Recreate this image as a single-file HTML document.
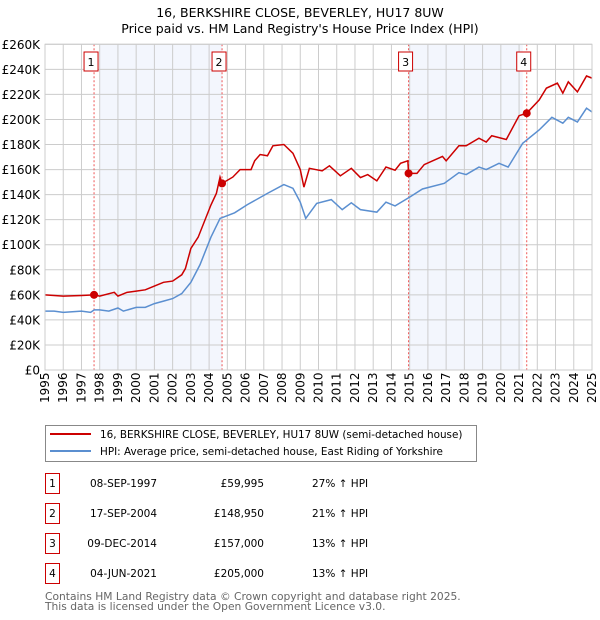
<!DOCTYPE html>
<html><head><meta charset="utf-8"><style>
body{margin:0;background:#fff;width:600px;height:620px;overflow:hidden;font-family:"DejaVu Sans","Liberation Sans",sans-serif;}
svg{position:absolute;left:0;top:0}
</style></head><body>
<svg width="600" height="620" xmlns="http://www.w3.org/2000/svg" font-family="DejaVu Sans, Liberation Sans, sans-serif">
<g id="root"></g>
</svg>
<script>
const years=[1995,1996,1997,1998,1999,2000,2001,2002,2003,2004,2005,2006,2007,2008,2009,2010,2011,2012,2013,2014,2015,2016,2017,2018,2019,2020,2021,2022,2023,2024,2025];
const yTicks=[0,20,40,60,80,100,120,140,160,180,200,220,240,260];
const hpiT=[1995,1995.5,1996,1996.5,1997,1997.5,1997.7,1998,1998.5,1999,1999.3,2000,2000.5,2001,2001.5,2002,2002.5,2003,2003.5,2004.1,2004.6,2005.4,2006.1,2007.2,2008.1,2008.6,2009,2009.3,2009.9,2010.7,2011.3,2011.8,2012.3,2013.2,2013.7,2014.2,2015,2015.7,2016.9,2017.7,2018.1,2018.8,2019.2,2019.9,2020.4,2021.2,2022.1,2022.8,2023.4,2023.7,2024.2,2024.7,2025];
const hpiV=[47,47,46,46.5,47,46,48,48,47,49.5,47,50,50,53,55,57,61,70,84,106,121,125.5,132,141,148,145,134,121,133,136,128,133.5,128,126,134,131,138,144.5,149,157.5,156,162,160,165,162,181,191.6,201.7,197,201.7,198,209,206];
const ppT=[1995,1996,1997,1997.69,1998,1998.8,1999,1999.5,2000,2000.5,2001,2001.5,2002,2002.5,2002.7,2003,2003.4,2004.1,2004.4,2004.6,2004.71,2005.3,2005.7,2006.3,2006.5,2006.8,2007.2,2007.5,2008.1,2008.6,2009,2009.2,2009.5,2010.2,2010.6,2011.2,2011.8,2012.3,2012.7,2013.2,2013.7,2014.2,2014.5,2014.9,2014.94,2015.4,2015.8,2016.8,2017,2017.7,2018.1,2018.8,2019.2,2019.5,2020.3,2021,2021.42,2022.1,2022.5,2023.1,2023.4,2023.7,2024.2,2024.7,2025];
const ppV=[60,59,59.5,60,59,62,59,62,63,64,67,70,71,76,81,97,106,131.7,141,154,148.95,154,160,160,167,172,171,179,180,173,160,146,161,159,163,155,161,153.6,156,151,162,159.5,165,167,157,157,164,170.5,167,179,179,185,182,187,184,203,205,215.5,225,229,221,230,222,234.7,233];
const saleLabels=["1","2","3","4"];
const saleT=[1997.69,2004.71,2014.94,2021.42];
const saleV=[59.995,148.95,157,205];
const shadeStart=[1998.0,2014.94];
const shadeEnd=[2004.71,2021.2];

const NS="http://www.w3.org/2000/svg";
const root=document.getElementById('root');
const L=45,R=592,T=44.3,B=370;
const X=t=>L+(t-1995)*(R-L)/30;
const Y=v=>B-v*(B-T)/260;
function mk(tag,attrs,parent){const e=document.createElementNS(NS,tag);for(const k in attrs)e.setAttribute(k,attrs[k]);(parent||root).appendChild(e);return e;}
let t1=mk('text',{x:300,y:17,'text-anchor':'middle','font-size':12.5,fill:'#000'});t1.textContent='16, BERKSHIRE CLOSE, BEVERLEY, HU17 8UW';


let t2=mk('text',{x:300,y:33,'text-anchor':'middle','font-size':12.5,fill:'#000'});t2.textContent="Price paid vs. HM Land Registry's House Price Index (HPI)";


for(let i=0;i<shadeStart.length;i++){const r=mk('rect',{x:X(shadeStart[i]),y:T,width:X(shadeEnd[i])-X(shadeStart[i]),height:B-T,fill:'#f3f6fd'});

}
years.forEach(y=>{const l=mk('line',{x1:X(y),x2:X(y),y1:T,y2:B,stroke:'#ccc','stroke-width':1});


const tx=mk('text',{transform:`translate(${X(y)+4},${B+33}) rotate(-90)`,'font-size':12,fill:'#000'});tx.textContent=y;

});
yTicks.forEach(v=>{const l=mk('line',{x1:L,x2:R,y1:Y(v),y2:Y(v),stroke:'#ccc','stroke-width':1});


const tx=mk('text',{x:40,y:Y(v)+4.5,'text-anchor':'end','font-size':12,fill:'#000'});tx.textContent=v===0?'£0':'£'+v+'K';

});
saleT.forEach((s,i)=>{const l=mk('line',{x1:X(s),x2:X(s),y1:T,y2:B,stroke:'#e55','stroke-width':1,'stroke-dasharray':'2,2'});


const bx=X(s)-7-3;
const r=mk('rect',{x:bx,y:52,width:14,height:19,fill:'#fff',stroke:'#c00','stroke-width':1});


const tx=mk('text',{x:bx+7,y:66,'text-anchor':'middle','font-size':11,fill:'#000'});tx.textContent=saleLabels[i];

});
const hp=mk('polyline',{points:hpiT.map((t,i)=>X(t)+','+Y(hpiV[i])).join(' '),fill:'none',stroke:'#5b8fd0','stroke-width':1.5});


const pp=mk('polyline',{points:ppT.map((t,i)=>X(t)+','+Y(ppV[i])).join(' '),fill:'none',stroke:'#cc0000','stroke-width':1.5});


saleT.forEach((s,i)=>{const c=mk('circle',{cx:X(s),cy:Y(saleV[i]),r:4,fill:'#cc0000'});

});
mk('rect',{x:L,y:T,width:R-L,height:B-T,fill:'none',stroke:'#ccc'});
const lg=mk('g',{});


mk('rect',{x:45.5,y:425.5,width:431,height:36,fill:'#fff',stroke:'#888'},lg);
mk('line',{x1:50,x2:91,y1:434,y2:434,stroke:'#cc0000','stroke-width':2},lg);
mk('line',{x1:50,x2:91,y1:451,y2:451,stroke:'#5b8fd0','stroke-width':2},lg);
let a=mk('text',{x:100,y:438,'font-size':10.4,fill:'#000'},lg);a.textContent='16, BERKSHIRE CLOSE, BEVERLEY, HU17 8UW (semi-detached house)';


let b=mk('text',{x:100,y:455,'font-size':10.4,fill:'#000'},lg);b.textContent='HPI: Average price, semi-detached house, East Riding of Yorkshire';


const dates=["08-SEP-1997","17-SEP-2004","09-DEC-2014","04-JUN-2021"];
const prices=["£59,995","£148,950","£157,000","£205,000"];
const pct=["27% ↑ HPI","21% ↑ HPI","13% ↑ HPI","13% ↑ HPI"];
for(let i=0;i<4;i++){const cy=483+30*i;
const r=mk('rect',{x:45.5,y:cy-9.5,width:14,height:20,fill:'#fff',stroke:'#c00'});


const n=mk('text',{x:52.5,y:cy+4,'text-anchor':'middle','font-size':10.5});n.textContent=saleLabels[i];


const d=mk('text',{x:157,y:cy+4,'text-anchor':'end','font-size':10.5});d.textContent=dates[i];


const p=mk('text',{x:264,y:cy+4,'text-anchor':'end','font-size':10.5});p.textContent=prices[i];


const h=mk('text',{x:312,y:cy+4,'font-size':10.5});h.textContent=pct[i];

}
let f1=mk('text',{x:45,y:600,'font-size':10.7,fill:'#666'});f1.textContent='Contains HM Land Registry data © Crown copyright and database right 2025.';


let f2=mk('text',{x:45,y:610,'font-size':10.7,fill:'#666'});f2.textContent='This data is licensed under the Open Government Licence v3.0.';


</script>
</body></html>
